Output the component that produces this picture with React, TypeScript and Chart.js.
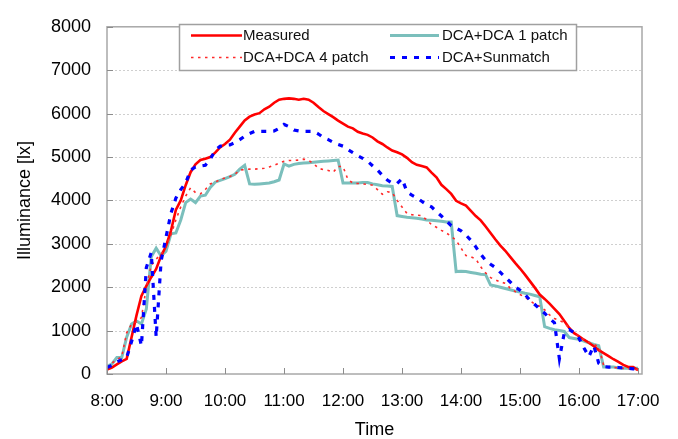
import { useEffect, useRef } from "react";
import { Chart, registerables } from "chart.js";

Chart.register(...registerables);

const times = [
  "8:00","8:05","8:10","8:15","8:20","8:25","8:30","8:35","8:40","8:45","8:50","8:55",
  "9:00","9:05","9:10","9:15","9:20","9:25","9:30","9:35","9:40","9:45","9:50","9:55",
  "10:00","10:05","10:10","10:15","10:20","10:25","10:30","10:35","10:40","10:45","10:50","10:55",
  "11:00","11:05","11:10","11:15","11:20","11:25","11:30","11:35","11:40","11:45","11:50","11:55",
  "12:00","12:05","12:10","12:15","12:20","12:25","12:30","12:35","12:40","12:45","12:50","12:55",
  "13:00","13:05","13:10","13:15","13:20","13:25","13:30","13:35","13:40","13:45","13:50","13:55",
  "14:00","14:05","14:10","14:15","14:20","14:25","14:30","14:35","14:40","14:45","14:50","14:55",
  "15:00","15:05","15:10","15:15","15:20","15:25","15:30","15:35","15:40","15:45","15:50","15:55",
  "16:00","16:05","16:10","16:15","16:20","16:25","16:30","16:35","16:40","16:45","16:50","16:55",
  "17:00",
];

const measured = [
  100,150,220,290,350,850,1350,1800,2030,2230,2420,2720,
  2950,3300,3780,4000,4350,4650,4830,4930,4960,5000,5100,5220,
  5300,5400,5560,5700,5840,5930,5980,6010,6100,6160,6250,6320,
  6340,6350,6340,6320,6340,6320,6250,6150,6060,5990,5920,5840,
  5770,5700,5660,5580,5540,5510,5450,5360,5300,5220,5150,5110,
  5060,4980,4880,4820,4790,4760,4640,4530,4360,4260,4150,3990,
  3930,3880,3760,3640,3540,3400,3250,3100,2960,2840,2700,2560,
  2430,2290,2140,1990,1830,1730,1620,1500,1380,1220,1060,940,
  870,790,720,640,550,480,410,340,280,210,160,160,
  90,
];

const dca1Patch = [
  180,230,380,380,850,1150,1220,1150,1500,2700,2900,2720,
  2830,3230,3250,3550,3950,4030,3950,4100,4120,4300,4420,4460,
  4500,4550,4600,4720,4810,4380,4370,4380,4390,4400,4430,4470,
  4840,4790,4830,4850,4860,4870,4880,4890,4900,4910,4920,4930,
  4400,4400,4400,4400,4410,4410,4380,4360,4340,4330,4320,3650,
  3630,3610,3600,3590,3570,3550,3540,3530,3520,3500,3500,2360,
  2370,2360,2340,2320,2300,2290,2050,2030,2000,1970,1940,1910,
  1890,1860,1840,1810,1780,1090,1050,1020,1000,980,840,820,
  800,760,720,680,650,160,160,160,140,130,130,130,
  130,
];

const dca4Patch = [
  150,250,330,400,950,1150,1200,1300,2000,2500,2650,2750,
  2950,3200,3550,3850,4100,4290,4180,4150,4250,4380,4420,4480,
  4520,4550,4600,4700,4710,4720,4720,4730,4740,4770,4810,4860,
  4900,4920,4920,4930,4950,4920,4850,4740,4710,4690,4650,4780,
  4780,4480,4400,4390,4380,4370,4350,4250,4140,4200,4180,4000,
  3850,3700,3670,3660,3650,3550,3440,3380,3310,3250,3170,3080,
  2900,2730,2700,2650,2470,2330,2220,2170,2120,2090,1980,1900,
  1830,1770,1690,1610,1560,1480,1360,1280,1230,1180,1060,950,
  860,790,730,680,630,200,160,150,140,130,120,110,
  100,
];

const dcaSunmatch = [
  150,200,280,330,380,750,1150,650,2450,2800,850,2600,
  3150,3700,4050,4250,4400,4700,4770,4790,4810,4950,5150,5250,
  5270,5280,5330,5400,5480,5540,5590,5590,5590,5590,5600,5660,
  5750,5700,5620,5600,5590,5590,5590,5530,5450,5400,5340,5290,
  5250,5170,5100,5030,4970,4900,4800,4700,4580,4470,4400,4390,
  4500,4200,4120,4060,3980,3900,3850,3740,3640,3530,3420,3360,
  3300,3200,3080,2930,2760,2620,2530,2450,2340,2230,2120,2010,
  1930,1830,1700,1600,1500,1400,1280,1180,350,950,1020,950,
  820,600,400,650,250,170,160,160,150,140,130,120,
  110,
];

const seriesLabels = ["Measured", "DCA+DCA 1 patch", "DCA+DCA 4 patch", "DCA+Sunmatch"];
const xTickLabels = ["8:00","9:00","10:00","11:00","12:00","13:00","14:00","15:00","16:00","17:00"];
const yTickValues = [0,1000,2000,3000,4000,5000,6000,7000,8000];

const toMinutes = (s: string) => {
  const [h, m] = s.split(":").map(Number);
  return h * 60 + m;
};
const xTickValues = xTickLabels.map(toMinutes);

const FONT = "'Liberation Sans', Arial, Helvetica, sans-serif";

const framePlugin = {
  id: "frame",
  beforeDatasetsDraw(chart: any) {
    const { ctx, chartArea: a, scales } = chart;
    const y = scales.y;
    ctx.save();
    ctx.strokeStyle = "#cfcfcf";
    ctx.lineWidth = 1;
    ctx.setLineDash([2, 2]);
    yTickValues.forEach((v) => {
      if (v === yTickValues[0] || v === yTickValues[yTickValues.length - 1]) return;
      const py = Math.round(y.getPixelForValue(v)) + 0.5;
      ctx.beginPath();
      ctx.moveTo(a.left, py);
      ctx.lineTo(a.right, py);
      ctx.stroke();
    });
    ctx.restore();
  },
  afterDatasetsDraw(chart: any) {
    const { ctx, chartArea: a, scales } = chart;
    const x = scales.x;
    const y = scales.y;
    ctx.save();
    ctx.strokeStyle = "#a8a8a8";
    ctx.lineWidth = 1.5;
    ctx.strokeRect(a.left, a.top, a.right - a.left, a.bottom - a.top);
    ctx.strokeStyle = "#8c8c8c";
    ctx.lineWidth = 1;
    xTickValues.forEach((v) => {
      const px = Math.round(x.getPixelForValue(v)) + 0.5;
      ctx.beginPath();
      ctx.moveTo(px, a.bottom);
      ctx.lineTo(px, a.bottom - 6);
      ctx.stroke();
    });
    yTickValues.forEach((v) => {
      const py = Math.round(y.getPixelForValue(v)) + 0.5;
      ctx.beginPath();
      ctx.moveTo(a.left, py);
      ctx.lineTo(a.left + 6, py);
      ctx.stroke();
    });
    ctx.restore();
  },
};

const legendPlugin = {
  id: "boxLegend",
  afterDraw(chart: any) {
    const { ctx } = chart;
    ctx.save();
    ctx.fillStyle = "#ffffff";
    ctx.fillRect(179, 24, 397, 46);
    ctx.strokeStyle = "#a0a0a0";
    ctx.lineWidth = 1.5;
    ctx.strokeRect(179.5, 24.5, 397, 46);
    const cols = [
      { x0: 191, x1: 242, tx: 243 },
      { x0: 390, x1: 439, tx: 442 },
    ];
    const rows = [35.5, 57.5];
    chart.data.datasets.forEach((ds: any, i: number) => {
      const c = cols[i % 2];
      const ry = rows[Math.floor(i / 2)];
      ctx.strokeStyle = ds.borderColor;
      ctx.lineWidth = ds.borderWidth;
      ctx.setLineDash(ds.borderDash || []);
      ctx.lineCap = "butt";
      ctx.beginPath();
      ctx.moveTo(c.x0, ry);
      ctx.lineTo(c.x1, ry);
      ctx.stroke();
      ctx.setLineDash([]);
      ctx.fillStyle = "#111";
      ctx.font = `15px ${FONT}`;
      ctx.textBaseline = "middle";
      ctx.textAlign = "left";
      ctx.fillText(ds.label, c.tx, ry);
    });
    ctx.restore();
  },
};

export default function App() {
  const ref = useRef<HTMLCanvasElement | null>(null);

  useEffect(() => {
    if (!ref.current) return;
    const xs = times.map(toMinutes);
    const pts = (arr: number[]) => arr.map((v, i) => ({ x: xs[i], y: v }));
    const chart = new Chart(ref.current, {
      type: "line",
      data: {
        datasets: [
          {
            label: seriesLabels[0],
            data: pts(measured),
            borderColor: "#ff0000",
            borderWidth: 2.6,
            pointRadius: 0,
            tension: 0,
            order: 3,
          },
          {
            label: seriesLabels[1],
            data: pts(dca1Patch),
            borderColor: "#7bbfbc",
            borderWidth: 3,
            pointRadius: 0,
            tension: 0,
            order: 4,
          },
          {
            label: seriesLabels[2],
            data: pts(dca4Patch),
            borderColor: "#ff2a2a",
            borderWidth: 1.6,
            borderDash: [2.5, 4.5],
            pointRadius: 0,
            tension: 0,
            order: 2,
          },
          {
            label: seriesLabels[3],
            data: pts(dcaSunmatch),
            borderColor: "#0000ff",
            borderWidth: 3.2,
            borderDash: [5, 7],
            pointRadius: 0,
            tension: 0,
            order: 1,
          },
        ],
      },
      options: {
        animation: false,
        responsive: true,
        maintainAspectRatio: false,
        layout: { padding: { left: 0, right: 36, top: 15, bottom: 0 } },
        plugins: { legend: { display: false }, tooltip: { enabled: false } },
        scales: {
          x: {
            type: "linear",
            min: xTickValues[0],
            max: xTickValues[xTickValues.length - 1] + 4,
            grid: { display: false, drawTicks: false },
            border: { display: false },
            afterBuildTicks: (s: any) => {
              s.ticks = xTickValues.map((v) => ({ value: v }));
            },
            afterFit: (s: any) => {
              s.height = 65;
            },
            ticks: {
              autoSkip: false,
              maxRotation: 0,
              padding: 17,
              color: "#000",
              font: { family: FONT, size: 17 },
              callback: (v: any) => {
                const idx = xTickValues.indexOf(Number(v));
                return idx >= 0 ? xTickLabels[idx] : "";
              },
            },
            title: {
              display: true,
              text: "Time",
              color: "#000",
              font: { family: FONT, size: 18 },
              padding: { top: 0, bottom: -2 },
            },
          },
          y: {
            type: "linear",
            min: yTickValues[0],
            max: yTickValues[yTickValues.length - 1],
            grid: { display: false, drawTicks: false },
            border: { display: false },
            afterBuildTicks: (s: any) => {
              s.ticks = yTickValues.map((v) => ({ value: v }));
            },
            afterFit: (s: any) => {
              s.width = 107;
            },
            ticks: {
              padding: 16,
              color: "#000",
              font: { family: FONT, size: 18 },
              callback: (v: any) => String(v),
            },
            title: {
              display: true,
              text: "Illuminance [lx]",
              color: "#000",
              font: { family: FONT, size: 18 },
              padding: { top: 14, bottom: 0 },
            },
          },
        },
      },
      plugins: [framePlugin, legendPlugin],
    });
    return () => chart.destroy();
  }, []);

  return (
    <div style={{ position: "fixed", left: 0, top: 0, width: 678, height: 439, background: "#fff" }}>
      <canvas ref={ref} />
    </div>
  );
}
